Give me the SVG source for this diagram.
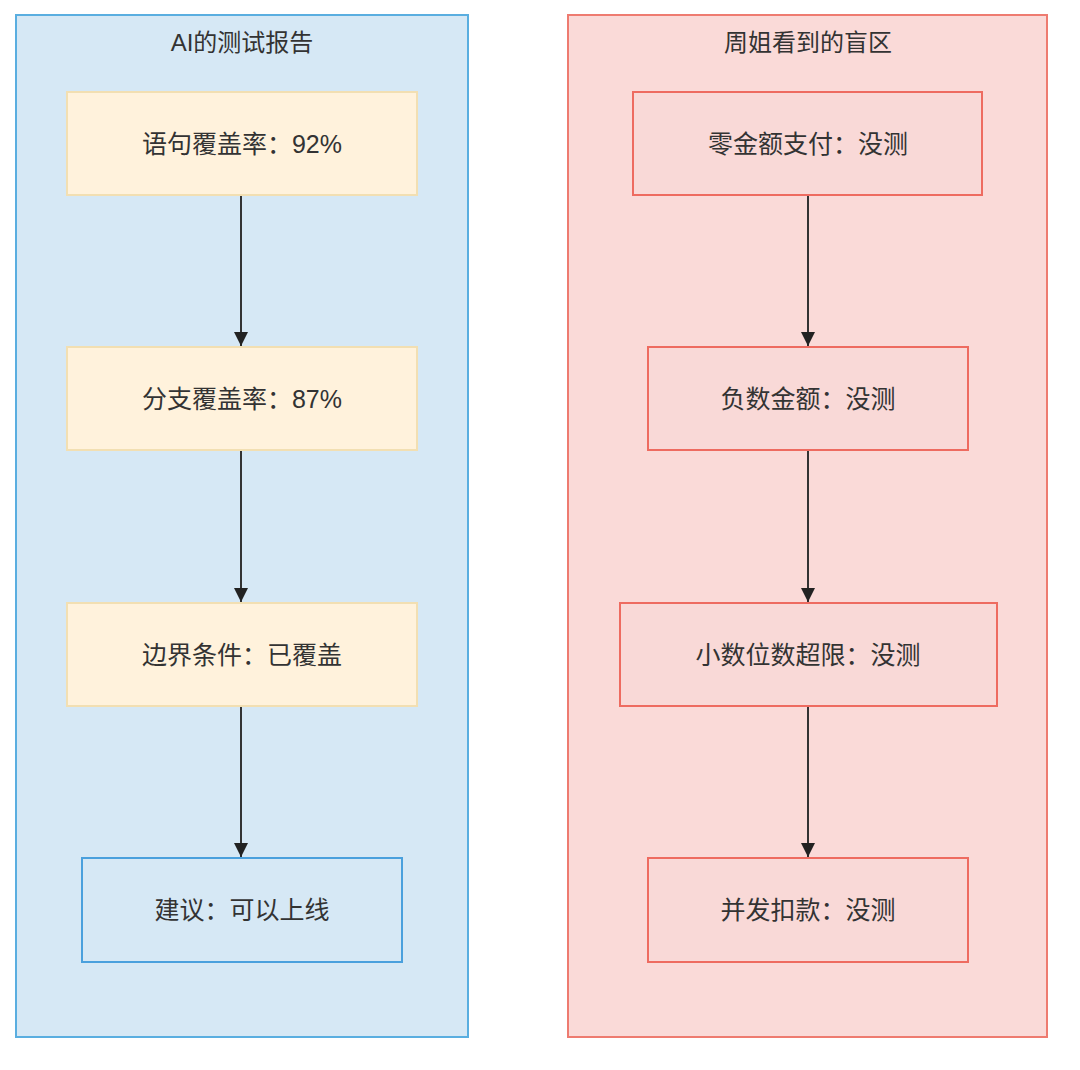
<svg xmlns="http://www.w3.org/2000/svg" width="1080" height="1070" viewBox="0 0 1080 1070">
<style>
text{font-family:"Liberation Sans","Noto Sans CJK SC",sans-serif;fill:#333;text-anchor:middle;dominant-baseline:central}
.t{font-size:24px}.n{font-size:25px}
.y{fill:#fff2dc;stroke:#f2dfb2;stroke-width:2}
.b{fill:#d6e8f5;stroke:#4aa0dd;stroke-width:2}
.r{fill:#f9d9d7;stroke:#ee6b60;stroke-width:2}
.e{stroke:#333;stroke-width:2;fill:none;marker-end:url(#a)}
</style>
<defs><marker id="a" markerWidth="14" markerHeight="16" refX="14" refY="7" orient="auto" markerUnits="userSpaceOnUse"><path d="M0,0L14,7L0,14z" fill="#222"/></marker></defs>
<rect width="1080" height="1070" fill="#fff"/>
<g id="clusterA"><rect x="16" y="15" width="452" height="1022" fill="#d6e8f5" stroke="#5aaee0" stroke-width="2"/><text class="t" x="242" y="42">AI的测试报告</text></g>
<g id="clusterB"><rect x="568" y="15" width="479" height="1022" fill="#fadad8" stroke="#ee7b70" stroke-width="2"/><text class="t" x="808" y="42">周姐看到的盲区</text></g>
<g id="edges">
<path class="e" d="M241,196V346"/><path class="e" d="M241,451V602"/><path class="e" d="M241,707V857"/>
<path class="e" d="M808,196V346"/><path class="e" d="M808,451V602"/><path class="e" d="M808,707V857"/>
</g>
<g id="a1"><rect class="y" x="67" y="92" width="350" height="103"/><text class="n" x="242" y="144">语句覆盖率：92%</text></g>
<g id="a2"><rect class="y" x="67" y="347" width="350" height="103"/><text class="n" x="242" y="399">分支覆盖率：87%</text></g>
<g id="a3"><rect class="y" x="67" y="603" width="350" height="103"/><text class="n" x="242" y="655">边界条件：已覆盖</text></g>
<g id="a4"><rect class="b" x="82" y="858" width="320" height="104"/><text class="n" x="242" y="910">建议：可以上线</text></g>
<g id="b1"><rect class="r" x="633" y="92" width="349" height="103"/><text class="n" x="808" y="144">零金额支付：没测</text></g>
<g id="b2"><rect class="r" x="648" y="347" width="320" height="103"/><text class="n" x="808" y="399">负数金额：没测</text></g>
<g id="b3"><rect class="r" x="620" y="603" width="377" height="103"/><text class="n" x="808" y="655">小数位数超限：没测</text></g>
<g id="b4"><rect class="r" x="648" y="858" width="320" height="104"/><text class="n" x="808" y="910">并发扣款：没测</text></g>
</svg>
